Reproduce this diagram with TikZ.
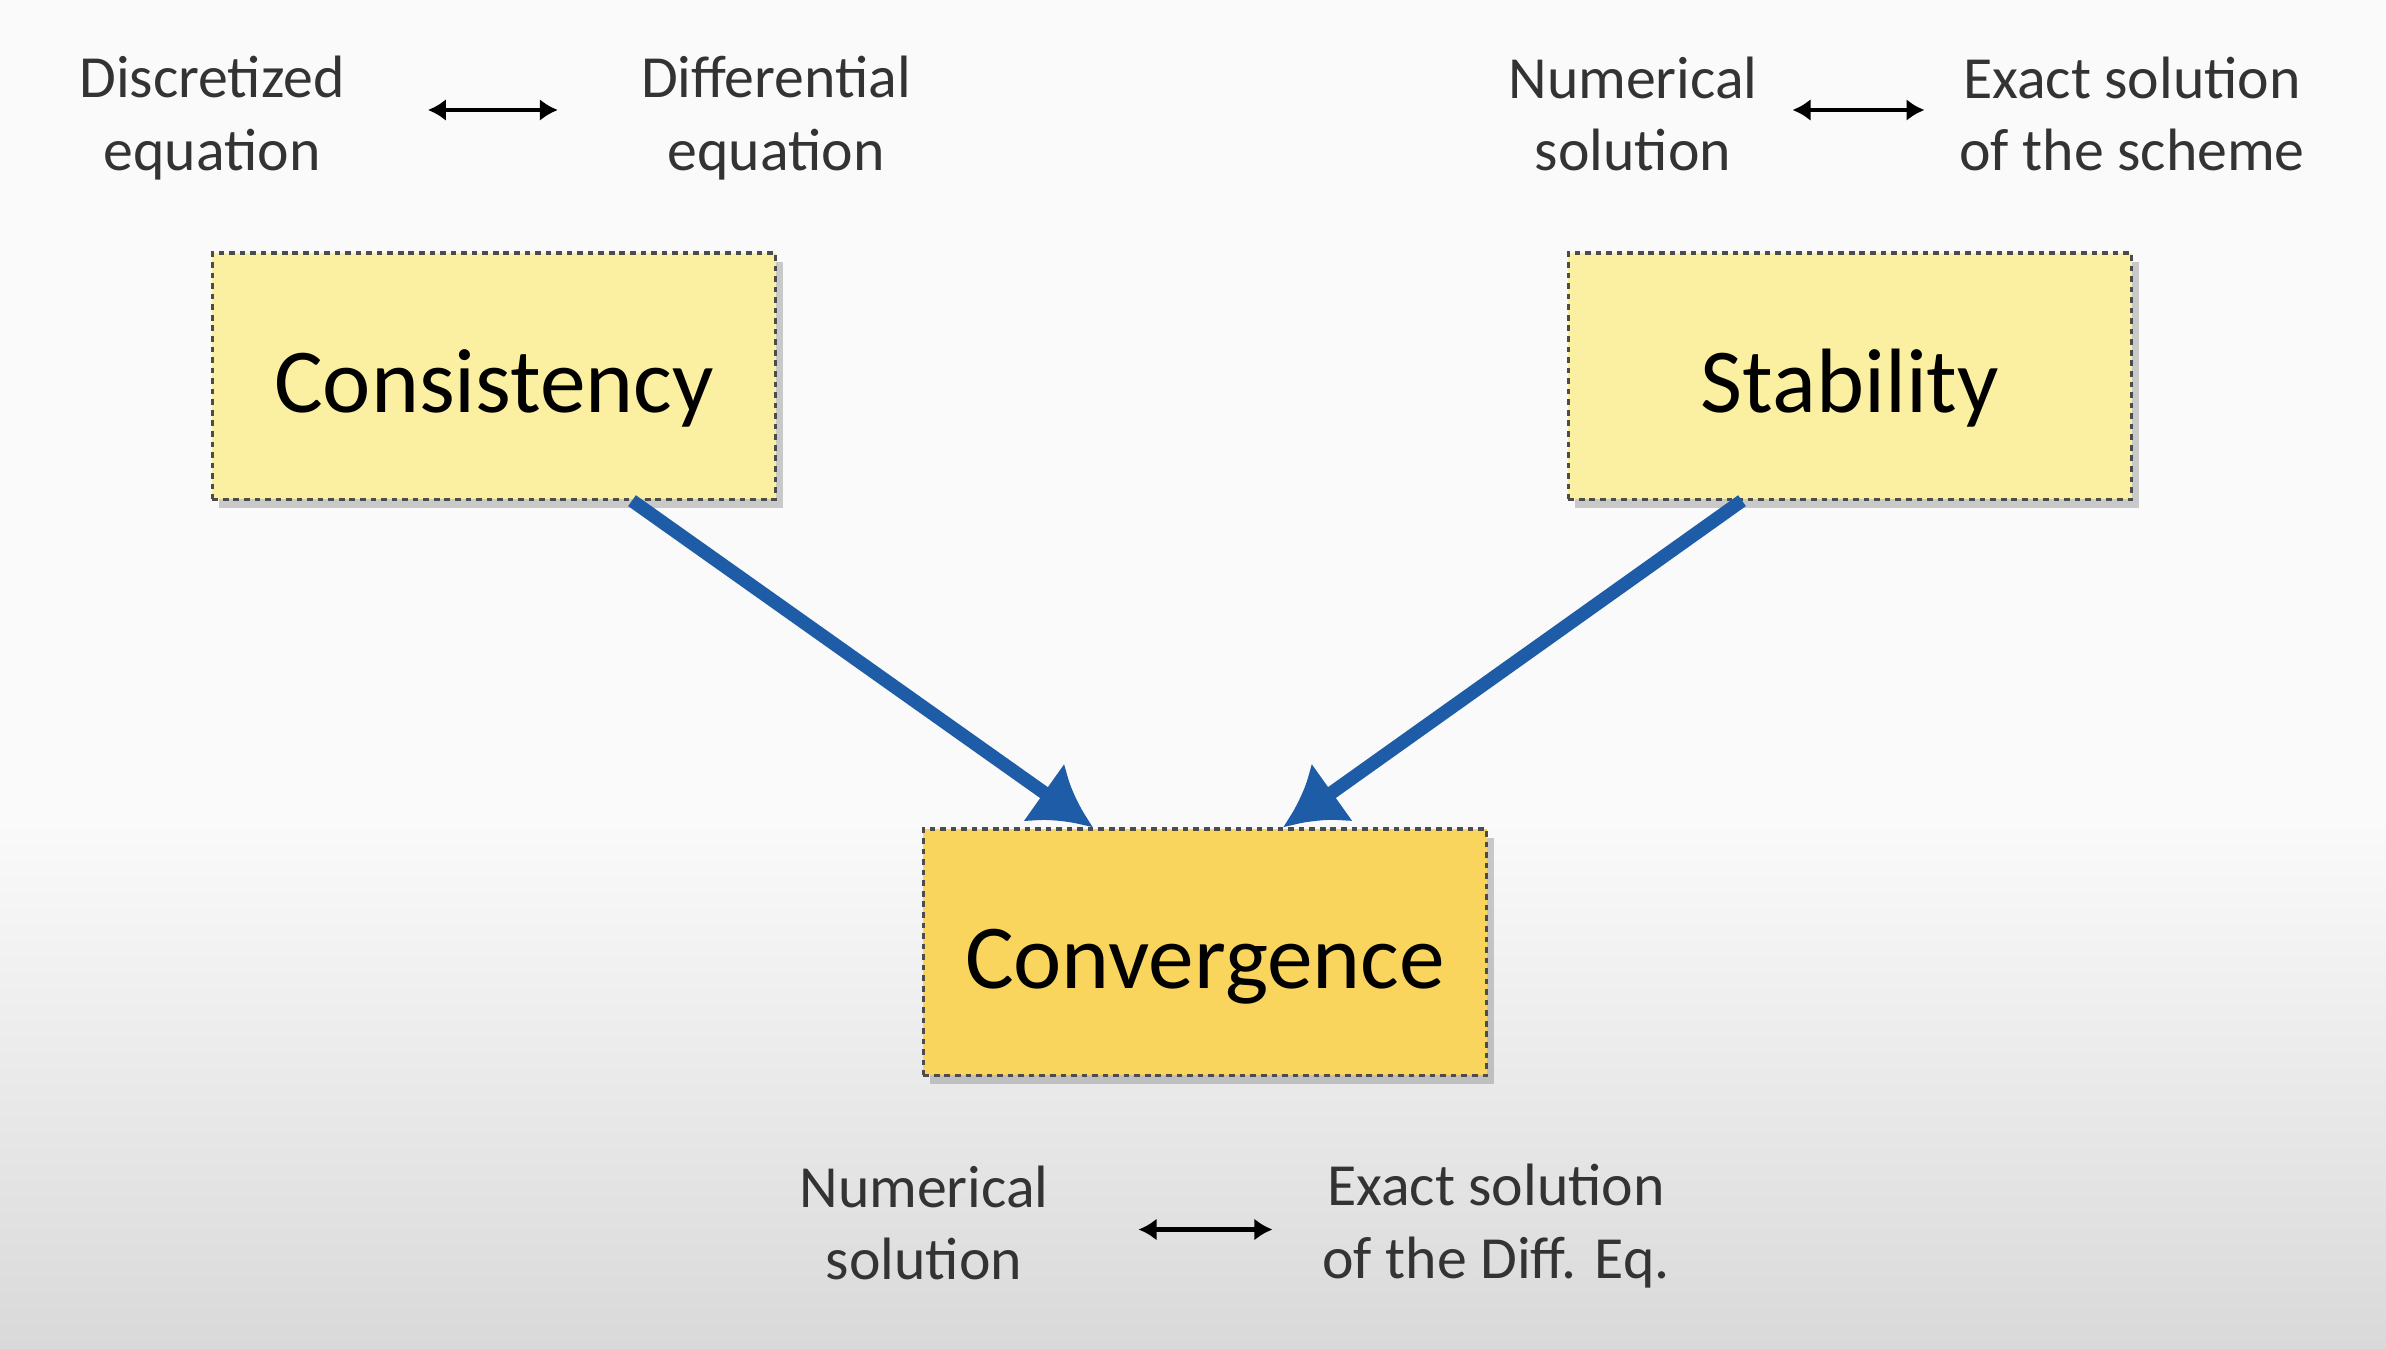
\documentclass[tikz,border=0pt]{standalone}
\usepackage{fontspec}
\setmainfont{Carlito}
\usepackage{tikz}
\usetikzlibrary{shapes, positioning, calc, shadows, arrows.meta}
\definecolor{paleyellow}{HTML}{FBF0A2}
\definecolor{goldyellow}{HTML}{F9D55E}
\definecolor{linkblue}{HTML}{1F5CA8}
\definecolor{backtop}{HTML}{FAFAFA}
\definecolor{backbottom}{HTML}{D9D9D9}

\begin{document}
\begin{tikzpicture}[x=0.01cm, y=-0.01cm,
  concept/.style={rectangle, draw=black!70, line width=0.9pt, dash pattern=on 1.6pt off 1.4pt, minimum width=5.63cm, minimum height=2.46cm, text height=26pt, text depth=5pt, font=\fontsize{26}{31}\selectfont, drop shadow={shadow xshift=0.07cm, shadow yshift=-0.09cm, opacity=0.4}},
  remark/.style={align=center, font=\fontsize{17}{20.7}\selectfont, text=black!80},
  link/.style={draw=linkblue, line width=3.8pt, -{Latex[length=0.6cm, width=0.72cm]}},
  pair/.style={line width=1.2pt, {Latex[length=0.18cm, width=0.22cm]}-{Latex[length=0.18cm, width=0.22cm]}}]

% Background

\fill[backtop] (0,0) rectangle (2386,1348);
\shade[top color=backtop, bottom color=backbottom] (0,820) rectangle (2386,1348);
\useasboundingbox (0,0) rectangle (2386,1348);

% Concepts

\node [concept, fill=paleyellow] (consistency) at (494,376) {Consistency};
\node [concept, fill=paleyellow] (stability) at (1850,376) {Stability};
\node [concept, fill=goldyellow] (convergence) at (1205,952) {Convergence};

% Remarks

\node [remark] (discretized) at (212,118) {Discretized\\equation};
\node [remark] (differential) at (776,118) {Differential\\equation};

\node [remark] (numscheme) at (1633,114) {Numerical\\solution};
\node [remark] (exactscheme) at (2132,114) {Exact solution\\of the scheme};

\node [remark] (numdiff) at (924,1223) {Numerical\\solution};
\node [remark] (exactdiff) at (1496,1226) {Exact solution\\of the Diff. Eq.};

\draw[pair] ($(discretized.east)!0.5!(differential.west) + (-65,-8)$) -- ($(discretized.east)!0.5!(differential.west) + (65,-8)$);
\draw[pair] ($(numscheme.east)!0.5!(exactscheme.west) + (-66,-4)$) -- ($(numscheme.east)!0.5!(exactscheme.west) + (66,-4)$);
\draw[pair] ($(numdiff.east)!0.5!(exactdiff.west) + (-47,5)$) -- ($(numdiff.east)!0.5!(exactdiff.west) + (87,5)$);

% Implications

\draw[link] ($(consistency.south) + (138,0)$) -- ($(convergence.north) + (-112,0)$);
\draw[link] ($(stability.south) + (-108,0)$) -- ($(convergence.north) + (78,0)$);

\end{tikzpicture}
\end{document}
